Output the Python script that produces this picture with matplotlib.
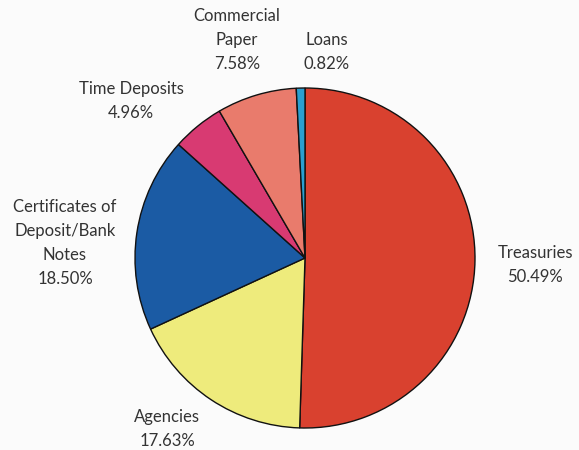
import matplotlib
matplotlib.use("Agg")
import matplotlib.pyplot as plt

categories = ["Treasuries", "Agencies", "Certificates of\nDeposit/Bank\nNotes",
              "Time Deposits", "Commercial\nPaper", "Loans"]
values = [50.49, 17.63, 18.50, 4.96, 7.58, 0.82]
colors = ["#D9412F", "#EEEB7C", "#1B5BA4", "#D83A72", "#E97B6C", "#2A9FD0"]
# label anchor positions in pixel coordinates (x, y from top)
label_pos = [(535, 265), (167, 429), (65, 243), (131, 101), (237, 40), (327, 52)]

W, H = 579, 450
fig = plt.figure(figsize=(W / 100, H / 100), dpi=100)
fig.patch.set_facecolor("#FBFBFB")
ax = fig.add_axes([0, 0, 1, 1])
ax.set_xlim(0, W)
ax.set_ylim(0, H)
ax.set_aspect("equal")
ax.axis("off")

ax.pie(values, colors=colors, startangle=90, counterclock=False,
       center=(305, H - 258), radius=170, frame=True,
       wedgeprops=dict(edgecolor="#111111", linewidth=1.0))
ax.set_xlim(0, W)
ax.set_ylim(0, H)
ax.axis("off")

for cat, val, (x, y) in zip(categories, values, label_pos):
    ax.text(x, H - y, f"{cat}\n{val:.2f}%", ha="center", va="center",
            fontsize=12, family=["Lato", "DejaVu Sans"], color="#333333",
            linespacing=1.6)

fig.savefig("out.png", dpi=100, facecolor=fig.get_facecolor())
